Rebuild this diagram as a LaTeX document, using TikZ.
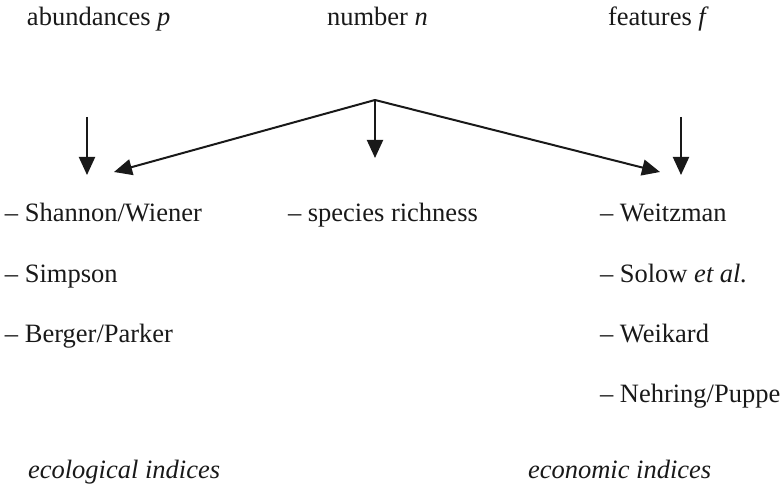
\documentclass[tikz,border=0pt]{standalone}
\usepackage{fontspec}
\setmainfont{Liberation Serif}
\usetikzlibrary{arrows.meta}
\begin{document}
\begin{tikzpicture}[x=1pt,y=-1pt,
  lbl/.style={anchor=base west,inner sep=0pt,outer sep=0pt,font=\fontsize{26.5}{30}\selectfont,text=black!90},
  arr/.style={line width=2pt,draw=black!90,-{Triangle[length=18pt,width=16pt]}}]
\useasboundingbox (0,0) rectangle (781,486);
% headers
\node[lbl] (hp) at (27,26) {abundances \textit{p}};
\node[lbl] (hn) at (327,26) {number \textit{n}};
\node[lbl] (hf) at (608,26) {features \textit{f}};
% arrows
\coordinate (apex) at (375,100);
\coordinate (lt) at (87,117);
\coordinate (lb) at (87,175);
\coordinate (rt) at (681,117);
\coordinate (rb) at (681,175);
\coordinate (ld) at (114,172);
\coordinate (rd) at (660,172);
\coordinate (cb) at (375,158);
\draw[arr] (lt) -- (lb);
\draw[arr] (rt) -- (rb);
\draw[arr] (apex) -- (ld);
\draw[arr] (apex) -- (rd);
\draw[arr] (apex) -- (cb);
% left column
\node[lbl] (l1) at (5,222) {– Shannon/Wiener};
\node[lbl] (l2) at (5,282) {– Simpson};
\node[lbl] (l3) at (5,342) {– Berger/Parker};
% middle
\node[lbl] (m1) at (288,222) {– species richness};
% right column
\node[lbl] (r1) at (600,222) {– Weitzman};
\node[lbl] (r2) at (600,282) {– Solow \textit{et al.}};
\node[lbl] (r3) at (600,342) {– Weikard};
\node[lbl] (r4) at (600,402) {– Nehring/Puppe};
% footers
\node[lbl] (fe) at (28,478) {\textit{ecological indices}};
\node[lbl] (fc) at (528,478) {\textit{economic indices}};
\end{tikzpicture}
\end{document}
